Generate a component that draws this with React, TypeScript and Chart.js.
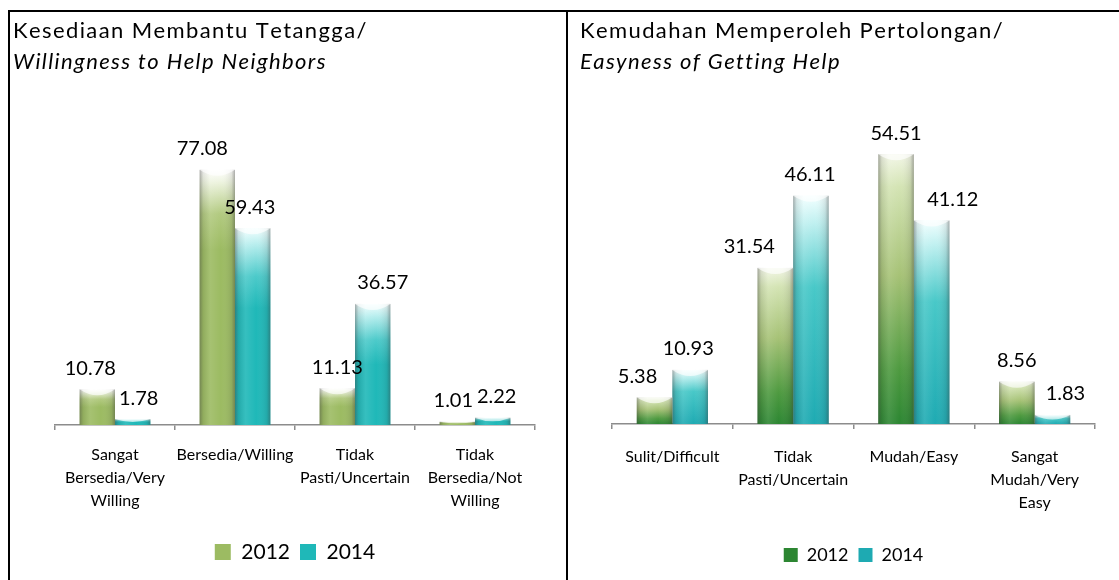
import React, { useEffect, useRef } from "react";
import { Chart, registerables } from "chart.js";

Chart.register(...registerables);

// ---------- data ----------
const SERIES_NAMES = ["2012", "2014"];

const LEFT_TITLE = "Kesediaan Membantu Tetangga/";
const LEFT_SUBTITLE = "Willingness to Help Neighbors";
const LEFT_CATEGORIES: (string | string[])[] = [
  ["Sangat", "Bersedia/Very", "Willing"],
  "Bersedia/Willing",
  ["Tidak", "Pasti/Uncertain"],
  ["Tidak", "Bersedia/Not", "Willing"],
];
const LEFT_2012 = [10.78, 77.08, 11.13, 1.01];
const LEFT_2014 = [1.78, 59.43, 36.57, 2.22];
const LEFT_Y_MAX = 90;

const RIGHT_TITLE = "Kemudahan Memperoleh Pertolongan/";
const RIGHT_SUBTITLE = "Easyness of Getting Help";
const RIGHT_CATEGORIES: (string | string[])[] = [
  "Sulit/Difficult",
  ["Tidak", "Pasti/Uncertain"],
  "Mudah/Easy",
  ["Sangat", "Mudah/Very", "Easy"],
];
const RIGHT_2012 = [5.38, 31.54, 54.51, 8.56];
const RIGHT_2014 = [10.93, 46.11, 41.12, 1.83];
const RIGHT_Y_MAX = 60;

// ---------- layout / style (not data) ----------
const FONT = "Lato, 'Open Sans', 'DejaVu Sans', sans-serif";
// small horizontal nudges of value labels (px), per series per category
const LEFT_LABEL_NUDGE = [
  [-7, -15, 0, -4],
  [6, -3, 10, 4],
];
const RIGHT_LABEL_NUDGE = [
  [-17, -26, 0, 0],
  [-2, -1, 21, 13],
];

type Stops = [number, string][];

const LEFT_GREEN: Stops = [
  [0, "#ffffff"],
  [0.15, "#eef4e0"],
  [0.55, "#b2ca80"],
  [1, "#9cbb62"],
];
const LEFT_TEAL: Stops = [
  [0, "#f2ffff"],
  [0.2, "#b8eeee"],
  [0.6, "#4ccaca"],
  [1, "#1fb8b8"],
];
const RIGHT_GREEN: Stops = [
  [0, "#f2f6e6"],
  [0.12, "#d4e4b4"],
  [0.45, "#a6c276"],
  [0.8, "#4e9a40"],
  [1, "#2c8632"],
];
const RIGHT_TEAL: Stops = [
  [0, "#f2ffff"],
  [0.12, "#bff0f0"],
  [0.4, "#48c8c8"],
  [1, "#1eaab2"],
];

function makeFill(stops: Stops, full: boolean, solid: string) {
  return (ctx: any) => {
    const chart = ctx.chart;
    const y = chart.scales && chart.scales.y;
    if (ctx.type !== "data" || !y) return solid;
    const top = y.getPixelForValue(ctx.raw);
    const base = y.getPixelForValue(0);
    const h = Math.max(1, base - top);
    const end = full ? base : top + Math.min(80, h * 0.5);
    const g = chart.ctx.createLinearGradient(0, top, 0, Math.max(end, top + 1));
    stops.forEach(([o, c]) => g.addColorStop(o, c));
    return g;
  };
}

const cylinderPlugin = {
  id: "cylinder",
  afterDatasetsDraw(chart: any) {
    const c = chart.ctx;
    chart.data.datasets.forEach((_ds: any, di: number) => {
      const meta = chart.getDatasetMeta(di);
      meta.data.forEach((bar: any) => {
        const w = bar.width;
        const left = bar.x - w / 2;
        const right = bar.x + w / 2;
        const top = bar.y;
        const base = bar.base;
        const h = base - top;
        if (h <= 0) return;
        c.save();
        const g = c.createLinearGradient(left, 0, right, 0);
        g.addColorStop(0, "rgba(60,60,60,0.42)");
        g.addColorStop(0.1, "rgba(60,60,60,0.12)");
        g.addColorStop(0.3, "rgba(255,255,255,0.10)");
        g.addColorStop(0.6, "rgba(255,255,255,0)");
        g.addColorStop(0.9, "rgba(60,60,60,0.12)");
        g.addColorStop(1, "rgba(60,60,60,0.42)");
        c.fillStyle = g;
        c.fillRect(left, top, w, h);
        // top cap highlight
        const capDepth = Math.min(6, h * 0.5);
        c.beginPath();
        c.moveTo(left, top);
        c.lineTo(right, top);
        c.quadraticCurveTo(bar.x, top + capDepth * 2, left, top);
        c.closePath();
        c.fillStyle = "rgba(255,255,255,0.65)";
        c.fill();
        c.restore();
      });
    });
  },
};

function makeLabelPlugin(nudges: number[][], fontSize: number, gap: number) {
  return {
    id: "valueLabels",
    afterDatasetsDraw(chart: any) {
      const c = chart.ctx;
      c.save();
      c.font = `${fontSize}px ${FONT}`;
      c.fillStyle = "#000";
      c.textAlign = "center";
      c.textBaseline = "middle";
      chart.data.datasets.forEach((ds: any, di: number) => {
        const meta = chart.getDatasetMeta(di);
        meta.data.forEach((bar: any, i: number) => {
          const v = ds.data[i];
          const dx = (nudges[di] && nudges[di][i]) || 0;
          c.fillText(v.toFixed(2), bar.x + dx, bar.y - gap);
        });
      });
      c.restore();
    },
  };
}

// Two-line panel title (regular + italic), drawn with slight letter spacing
function makeTitlePlugin(title: string, subtitle: string, x: number) {
  const lines = [
    { text: title, italic: false, y: 19 },
    { text: subtitle, italic: true, y: 50 },
  ];
  return {
    id: "panelTitle",
    afterDraw(chart: any) {
      const c = chart.ctx;
      c.save();
      c.fillStyle = "#000";
      c.textAlign = "left";
      c.textBaseline = "middle";
      lines.forEach((l) => {
        c.font = `${l.italic ? "italic " : ""}22px ${FONT}`;
        let cx = x;
        for (const ch of l.text) {
          c.fillText(ch, cx, l.y);
          cx += c.measureText(ch).width + 1.4;
        }
      });
      c.restore();
    },
  };
}

type PanelSpec = {
  title: string;
  subtitle: string;
  categories: (string | string[])[];
  s2012: number[];
  s2014: number[];
  yMax: number;
  fills: [Stops, Stops];
  solids: [string, string];
  fullGradient: boolean;
  nudges: number[][];
  padding: { left: number; right: number; top: number; bottom: number };
  yWidth: number;
  xHeight: number;
  tickPadding: number;
  legendFont: number;
  legendBox: number;
};

function buildConfig(p: PanelSpec): any {
  return {
    type: "bar",
    data: {
      labels: p.categories,
      datasets: [
        {
          label: SERIES_NAMES[0],
          data: p.s2012,
          backgroundColor: makeFill(p.fills[0], p.fullGradient, p.solids[0]),
          borderWidth: 0,
        },
        {
          label: SERIES_NAMES[1],
          data: p.s2014,
          backgroundColor: makeFill(p.fills[1], p.fullGradient, p.solids[1]),
          borderWidth: 0,
        },
      ],
    },
    options: {
      responsive: false,
      animation: false,
      events: [],
      layout: { padding: p.padding },
      datasets: {
        bar: { categoryPercentage: 0.59, barPercentage: 1.0 },
      },
      scales: {
        x: {
          offset: true,
          grid: {
            display: true,
            offset: true,
            drawOnChartArea: false,
            drawTicks: true,
            tickLength: 5,
            color: "#8c8c8c",
            lineWidth: 1.5,
          },
          border: { display: true, color: "#8c8c8c", width: 1.5 },
          ticks: {
            color: "#000",
            font: { family: FONT, size: 16, lineHeight: 1.44 },
            padding: p.tickPadding,
            maxRotation: 0,
            minRotation: 0,
            autoSkip: false,
          },
          afterFit: (s: any) => {
            s.height = p.xHeight;
          },
        },
        y: {
          min: 0,
          max: p.yMax,
          grid: { display: false },
          border: { display: false },
          ticks: { display: false },
          afterFit: (s: any) => {
            s.width = p.yWidth;
          },
        },
      },
      plugins: {
        title: { display: false },
        subtitle: { display: false },
        legend: {
          display: true,
          position: "bottom",
          fullSize: false,
          labels: {
            color: "#000",
            font: { family: FONT, size: p.legendFont },
            boxWidth: p.legendBox,
            boxHeight: p.legendBox,
            padding: 10,
          },
        },
        tooltip: { enabled: false },
      },
    },
    plugins: [
      cylinderPlugin,
      makeLabelPlugin(p.nudges, 20, 21),
      makeTitlePlugin(p.title, p.subtitle, p.padding.left),
    ],
  };
}

const LEFT_SPEC: PanelSpec = {
  title: LEFT_TITLE,
  subtitle: LEFT_SUBTITLE,
  categories: LEFT_CATEGORIES,
  s2012: LEFT_2012,
  s2014: LEFT_2014,
  yMax: LEFT_Y_MAX,
  fills: [LEFT_GREEN, LEFT_TEAL],
  solids: ["#9cbb62", "#1fb8b8"],
  fullGradient: false,
  nudges: LEFT_LABEL_NUDGE,
  padding: { left: 3, right: 31, top: 115, bottom: 7.5 },
  yWidth: 42,
  xHeight: 106.5,
  tickPadding: 13.5,
  legendFont: 21,
  legendBox: 16,
};

const RIGHT_SPEC: PanelSpec = {
  title: RIGHT_TITLE,
  subtitle: RIGHT_SUBTITLE,
  categories: RIGHT_CATEGORIES,
  s2012: RIGHT_2012,
  s2014: RIGHT_2014,
  yMax: RIGHT_Y_MAX,
  fills: [RIGHT_GREEN, RIGHT_TEAL],
  solids: ["#5a9e48", "#2ebcc0"],
  fullGradient: true,
  nudges: RIGHT_LABEL_NUDGE,
  padding: { left: 12, right: 24, top: 115, bottom: 6 },
  yWidth: 32,
  xHeight: 112,
  tickPadding: 16.5,
  legendFont: 18,
  legendBox: 14,
};

function Panel({
  spec,
  left,
  top,
  width,
  height,
}: {
  spec: PanelSpec;
  left: number;
  top: number;
  width: number;
  height: number;
}) {
  const ref = useRef<HTMLCanvasElement | null>(null);
  useEffect(() => {
    if (!ref.current) return;
    const chart = new Chart(ref.current, buildConfig(spec));
    return () => chart.destroy();
  }, [spec]);
  return (
    <canvas
      ref={ref}
      width={width}
      height={height}
      style={{ position: "absolute", left, top, width, height, display: "block" }}
    />
  );
}

export default function App() {
  return (
    <div
      style={{
        position: "fixed",
        left: 0,
        top: 0,
        width: 1119,
        height: 580,
        overflow: "hidden",
        background: "#fff",
      }}
    >
      <div style={{ position: "absolute", left: 8, top: 10, width: 1111, height: 2, background: "#000" }} />
      <div style={{ position: "absolute", left: 8, top: 10, width: 2, height: 570, background: "#000" }} />
      <div style={{ position: "absolute", left: 566, top: 10, width: 2, height: 570, background: "#000" }} />
      <Panel spec={LEFT_SPEC} left={10} top={12} width={556} height={568} />
      <Panel spec={RIGHT_SPEC} left={568} top={12} width={551} height={568} />
    </div>
  );
}
